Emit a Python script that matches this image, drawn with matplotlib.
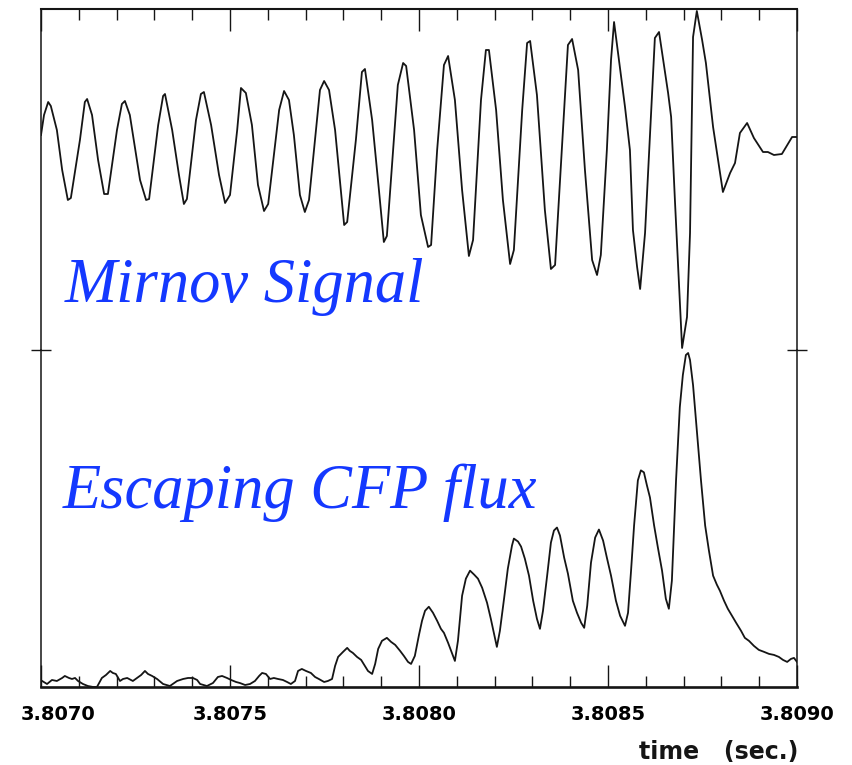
import numpy as np
import matplotlib
matplotlib.use("Agg")
import matplotlib.pyplot as plt
from matplotlib.transforms import ScaledTranslation

# time axis: offsets in microseconds from T0
T0 = 3.8070
x_ticks = [3.8070, 3.8075, 3.8080, 3.8085, 3.8090]
x_tick_labels = ["3.8070", "3.8075", "3.8080", "3.8085", "3.8090"]

# Mirnov coil signal (arb. units, 0 = bottom of upper panel)
mirnov_t_us = [0, 8, 19, 26, 42, 56, 71, 79, 103, 116, 122, 135, 151, 167, 177,
               201, 214, 222, 235, 262, 278, 286, 310, 323, 328, 347, 365, 378,
               386, 410, 423, 431, 450, 471, 487, 500, 519, 529, 542, 558, 574,
               590, 601, 630, 643, 656, 669, 685, 698, 709, 738, 749, 762, 778,
               802, 810, 833, 849, 857, 876, 894, 907, 915, 944, 958, 966, 987,
               1005, 1024, 1032, 1048, 1066, 1077, 1095, 1114, 1132, 1143, 1164,
               1177, 1185, 1204, 1222, 1241, 1251, 1273, 1286, 1294, 1312, 1333,
               1349, 1360, 1384, 1394, 1405, 1421, 1439, 1458, 1471, 1481, 1497,
               1508, 1516, 1545, 1558, 1566, 1577, 1585, 1598, 1616, 1624, 1635,
               1659, 1667, 1677, 1690, 1696, 1709, 1717, 1725, 1735, 1749, 1759,
               1778, 1804, 1823, 1836, 1849, 1868, 1886, 1910, 1923, 1939, 1960,
               1971, 1987, 2000]
mirnov_val = [215, 235, 248, 244, 220, 180, 150, 152, 210, 248, 251, 235, 190, 156, 156,
              220, 246, 249, 235, 170, 150, 151, 225, 254, 256, 220, 175, 146,
              151, 230, 256, 258, 225, 175, 147, 155, 220, 262, 257, 225, 165,
              139, 146, 240, 259, 250, 215, 155, 138, 150, 260, 269, 260, 220,
              125, 128, 210, 278, 281, 230, 160, 108, 114, 265, 287, 284, 220,
              135, 103, 105, 200, 285, 294, 250, 160, 94, 110, 250,
              300, 300, 240, 150, 86, 100, 240, 307, 309, 255, 140,
              81, 85, 240, 305, 311, 280, 180, 90, 75, 95, 200,
              290, 328, 243, 200, 120, 83, 61, 117, 253, 312, 318,
              257, 233, 150, 50, 2, 33, 117, 313, 339, 310, 287,
              223, 158, 177, 187, 217, 227, 212, 198, 198, 195, 196,
              203, 213, 213]

# escaping confined fusion product flux (arb. units, 0 = bottom of lower panel)
cfp_t_us = [3, 16, 29, 42, 56, 63, 74, 82, 90, 98, 111, 124, 138, 148, 161, 172,
            183, 190, 198, 209, 217, 228, 243, 254, 265, 275, 283, 294, 307, 323,
            341, 360, 376, 389, 402, 413, 421, 439, 455, 468, 479, 492, 503, 516,
            526, 540, 553, 566, 577, 585, 595, 606, 616, 627, 640, 651, 661, 672,
            680, 690, 701, 714, 725, 735, 749, 759, 770, 778, 786, 799, 810, 817,
            825, 836, 847, 857, 865, 876, 884, 892, 902, 915, 926, 937, 950, 960,
            971, 979, 989, 1000, 1008, 1016, 1026, 1037, 1048, 1058, 1066, 1077,
            1087, 1095, 1103, 1114, 1124, 1135, 1146, 1156, 1167, 1180, 1190,
            1198, 1206, 1214, 1225, 1235, 1246, 1251, 1262, 1270, 1280, 1291,
            1302, 1312, 1320, 1328, 1339, 1349, 1357, 1365, 1373, 1384, 1394,
            1407, 1418, 1429, 1437, 1445, 1455, 1466, 1476, 1487, 1497, 1508,
            1521, 1532, 1545, 1553, 1561, 1569, 1579, 1587, 1595, 1603, 1611,
            1622, 1632, 1643, 1653, 1661, 1669, 1680, 1690, 1698, 1706, 1712,
            1717, 1725, 1735, 1746, 1757, 1767, 1778, 1788, 1796, 1807, 1817,
            1828, 1839, 1852, 1862, 1873, 1886, 1899, 1913, 1926, 1939, 1952,
            1963, 1974, 1984, 1992, 2000]
cfp_val = [6, 3, 7, 6, 9, 11, 9, 8, 9, 6, 3, 1, 0, 0, 9, 12,
           16, 14, 13, 6, 8, 9, 6, 9, 12, 16, 13, 11, 8, 3,
           1, 6, 8, 9, 9, 7, 3, 1, 4, 10, 11, 9, 7, 5,
           4, 2, 3, 6, 11, 14, 13, 8, 9, 8, 7, 5, 3, 6,
           16, 18, 16, 14, 10, 8, 5, 6, 8, 21, 30, 35, 39, 36,
           34, 30, 27, 21, 16, 13, 23, 38, 46, 49, 45, 42, 36, 31,
           25, 23, 31, 52, 66, 76, 80, 74, 66, 58, 54, 44,
           34, 26, 46, 91, 108, 116, 112, 108, 99, 84, 68,
           54, 40, 56, 88, 118, 141, 148, 145, 140, 128, 111,
           86, 68, 58, 76, 111, 144, 156, 159, 151, 129, 113,
           86, 74, 64, 59, 81, 124, 149, 157, 146, 129, 111,
           86, 71, 61, 74, 116, 161, 206, 216, 214, 201, 189,
           161, 139, 116, 88, 78, 106, 206, 279, 311, 331, 333,
           326, 301, 256, 206, 161, 136, 111, 102, 96, 86, 78,
           71, 64, 56, 49, 46, 41, 37, 35, 33, 32, 30,
           27, 25, 28, 29, 25]

mirnov_label = "Mirnov Signal"
cfp_label = "Escaping CFP flux"
xlabel = "time   (sec.)"

ink = "#151515"
blue = "#1438ff"

fig = plt.figure(figsize=(8.53, 7.65), dpi=100)
L, R = 41 / 853, 797 / 853
y_top, y_mid, y_bot = 1 - 8.5 / 765, 1 - 350 / 765, 1 - 687 / 765
ax_top = fig.add_axes([L, y_mid, R - L, y_top - y_mid])
ax_bot = fig.add_axes([L, y_bot, R - L, y_mid - y_bot], sharex=ax_top)

t_m = T0 + np.array(mirnov_t_us) * 1e-6
t_c = T0 + np.array(cfp_t_us) * 1e-6
ax_top.plot(t_m, mirnov_val, color=ink, lw=1.3, solid_joinstyle="round")
ax_bot.plot(t_c, cfp_val, color=ink, lw=1.3, solid_joinstyle="round")

ax_top.set_xlim(3.8070, 3.8090)
ax_top.set_ylim(0, 341.5)
ax_bot.set_ylim(0, 336)

### frame
ax_top.spines["bottom"].set_visible(False)
ax_bot.spines["top"].set_visible(False)
ax_top.spines["top"].set_linewidth(1.5)
ax_bot.spines["bottom"].set_linewidth(1.9)
for ax in (ax_top, ax_bot):
    for s in ("left", "right"):
        ax.spines[s].set_linewidth(1.1)
    for s in ax.spines.values():
        s.set_color(ink)

### x ticks
ax_bot.set_xticks(x_ticks)
ax_bot.set_xticklabels(x_tick_labels)
ax_bot.set_xticks(np.arange(3.8070, 3.80905, 0.0001), minor=True)
ax_top.tick_params(axis="x", which="both", direction="in", top=True, bottom=False,
                   labelbottom=False, labeltop=False, color=ink, width=1.0)
ax_bot.tick_params(axis="x", which="both", direction="in", top=False, bottom=True,
                   color=ink, width=1.0)
for ax in (ax_top, ax_bot):
    ax.tick_params(axis="x", which="major", length=16)
    ax.tick_params(axis="x", which="minor", length=8)
ax_bot.tick_params(axis="x", which="major", pad=13, labelsize=14)
for lab in ax_bot.get_xticklabels():
    lab.set_fontweight("bold")
    lab.set_family("DejaVu Sans")
first = ax_bot.get_xticklabels()[0]
first.set_transform(first.get_transform() + ScaledTranslation(0.17, 0, fig.dpi_scale_trans))

### y ticks: only the junction mark on both sides
ax_top.set_yticks([])
ax_bot.set_yticks([336])
ax_bot.tick_params(axis="y", direction="inout", left=True, right=True, labelleft=False,
                   length=14, width=1.0, color=ink)

### labels
fig.text(65 / 853, 1 - 302 / 765, mirnov_label, color=blue, fontsize=45,
         family="Liberation Serif", style="italic", va="baseline", ha="left")
fig.text(63 / 853, 1 - 508 / 765, cfp_label, color=blue, fontsize=45,
         family="Liberation Serif", style="italic", va="baseline", ha="left")
fig.text(798 / 853, 1 - 759 / 765, xlabel, color=ink, fontsize=17,
         family="DejaVu Sans", fontweight="bold", va="baseline", ha="right")

fig.savefig("out.png", dpi=100)
